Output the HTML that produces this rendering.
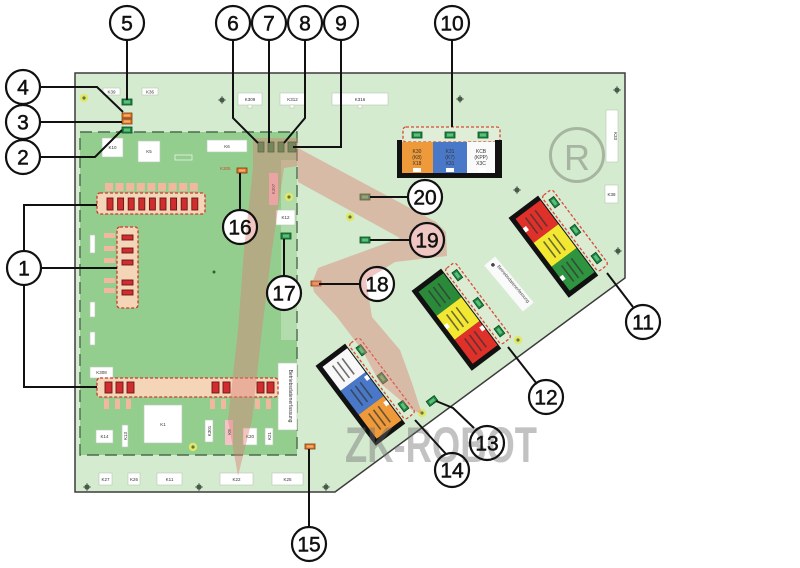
<!DOCTYPE html>
<html><head><meta charset="utf-8">
<style>
html,body{margin:0;padding:0;background:#fff;}
svg{display:block;}
text{font-family:"Liberation Sans",sans-serif;}
</style></head><body>
<svg width="800" height="568" viewBox="0 0 800 568" xmlns="http://www.w3.org/2000/svg">
<defs>
<g id="gc"><rect x="0" y="0" width="10" height="6" fill="#1f8a45" stroke="#0c4a22" stroke-width="0.8"/><rect x="2" y="1.5" width="6" height="3" fill="#5cc07a"/></g>
<g id="oc"><rect x="0" y="0" width="10" height="5" fill="#e8782a" stroke="#7a3a10" stroke-width="0.8"/><rect x="2" y="1.5" width="6" height="2" fill="#f6b070"/></g>
<g id="hole"><circle r="2.6" fill="#4a5a4a"/><path d="M-4,0H4M0,-4V4" stroke="#4a5a4a" stroke-width="0.8"/></g>
<g id="yhole"><circle r="4.2" fill="#e3e66a"/><circle r="1.6" fill="#5a7a3a"/></g>
</defs>
<rect width="800" height="568" fill="#fff"/>

<!-- outer board -->
<polygon points="75,73 625,73 625,278 335,492 75,492" fill="#d4ebd0" stroke="#3c3c3c" stroke-width="1.5"/>
<!-- inner board -->
<rect x="80" y="132" width="217" height="323" fill="#93ce8f"/>
<rect x="281" y="160" width="16" height="180" fill="#b2dcac"/>
<rect x="80" y="132" width="217" height="323" fill="none" stroke="#4e6a50" stroke-width="1.4" stroke-dasharray="12,6"/>

<!-- mounting holes -->
<use href="#hole" x="222" y="100"/><use href="#hole" x="460" y="99"/><use href="#hole" x="617" y="90"/>
<use href="#hole" x="517" y="190"/><use href="#hole" x="618" y="251"/><use href="#hole" x="87" y="487"/>
<use href="#hole" x="199" y="487"/><use href="#hole" x="326" y="487"/>
<circle cx="214" cy="272" r="1.5" fill="#3a5a3a"/>
<use href="#yhole" x="84" y="98"/><use href="#yhole" x="289" y="197"/><use href="#yhole" x="350" y="217"/>
<use href="#yhole" x="193" y="447"/><use href="#yhole" x="422" y="413"/><use href="#yhole" x="518" y="340"/>

<!-- white labels -->
<g fill="#fff" stroke="#b8c8b4" stroke-width="0.6">
<rect x="103" y="88" width="17" height="7"/><rect x="142" y="88" width="16" height="7"/>
<rect x="238" y="93" width="24" height="12"/><rect x="280" y="93" width="25" height="12"/><rect x="332" y="93" width="56" height="12"/>
<rect x="248" y="105" width="4" height="3"/><rect x="290" y="105" width="4" height="3"/><rect x="358" y="105" width="4" height="3"/>
<rect x="102" y="138" width="21" height="19"/><rect x="138" y="141" width="22" height="21"/><rect x="207" y="140" width="40" height="12"/>
<rect x="276" y="210" width="19" height="15"/>
<rect x="90" y="367" width="23" height="11"/><rect x="144" y="405" width="38" height="38"/>
<rect x="96" y="430" width="17" height="13"/><rect x="122" y="425" width="6" height="22"/>
<rect x="205" y="420" width="8" height="22"/><rect x="243" y="428" width="14" height="17"/><rect x="265" y="428" width="8" height="17"/>
<rect x="278" y="363" width="19" height="67"/>
<rect x="99" y="473" width="13" height="12"/><rect x="128" y="473" width="12" height="12"/><rect x="157" y="473" width="25" height="12"/>
<rect x="220" y="473" width="33" height="12"/><rect x="272" y="473" width="31" height="12"/>
<rect x="606" y="110" width="12" height="52"/><rect x="605" y="185" width="13" height="18"/>
<rect x="90" y="235" width="5" height="18"/><rect x="90" y="302" width="5" height="15"/><rect x="90" y="332" width="5" height="13"/>
</g>
<rect x="175" y="155" width="17" height="5" fill="none" stroke="#e8f4e4" stroke-width="0.8"/>
<rect x="269" y="173" width="9" height="32" fill="#f5c2c8"/>
<rect x="225" y="420" width="8" height="25" fill="#f5c2c8"/>
<g font-size="4.5" fill="#333" text-anchor="middle">
<text x="111.5" y="93.5">K39</text><text x="150" y="93.5">K36</text>
<text x="250" y="101">K309</text><text x="292.5" y="101">K312</text><text x="360" y="101">K316</text>
<text x="112.5" y="149">K10</text><text x="149" y="153">K5</text><text x="227" y="148">K6</text>
<text x="285.5" y="219">K12</text><text x="101.5" y="374">K308</text><text x="163" y="426">K1</text>
<text x="104.5" y="438">K14</text><text x="250" y="438">K20</text>
<text x="105.5" y="481">K27</text><text x="134" y="481">K26</text><text x="169.5" y="481">K11</text>
<text x="236.5" y="481">K22</text><text x="287.5" y="481">K25</text><text x="611.5" y="196">K38</text>
</g>
<g font-size="4.5" fill="#333" text-anchor="middle">
<text transform="translate(275,189) rotate(-90)">K307</text>
<text transform="translate(127,436) rotate(-90)">K13</text>
<text transform="translate(211,431) rotate(-90)">K301</text>
<text transform="translate(231,432) rotate(-90)">K8</text>
<text transform="translate(271,436) rotate(-90)">K21</text>
<text transform="translate(614,136) rotate(90)">K33</text>
<text transform="translate(289,396) rotate(90)" font-size="5">Betriebsdatenerfassung</text>
</g>
<text x="220" y="170" font-size="4.5" fill="#c05030">K305</text>

<!-- fuse boxes -->
<g fill="#f4d5b8" stroke="#cc3b2b" stroke-width="1.3" stroke-dasharray="3,2">
<rect x="97" y="193" width="108" height="21" rx="3"/>
<rect x="117" y="227" width="21" height="81" rx="3"/>
<rect x="97" y="378" width="181" height="19" rx="3"/>
</g>
<g fill="#f2b89e">
<rect x="105" y="183" width="8" height="8"/><rect x="115.6" y="183" width="8" height="8"/><rect x="126.2" y="183" width="8" height="8"/>
<rect x="136.8" y="183" width="8" height="8"/><rect x="147.4" y="183" width="8" height="8"/><rect x="158" y="183" width="8" height="8"/>
<rect x="168.6" y="183" width="8" height="8"/><rect x="179.2" y="183" width="8" height="8"/><rect x="189.8" y="183" width="8" height="8"/>
<rect x="104" y="399" width="5" height="10"/><rect x="115" y="399" width="5" height="10"/><rect x="126" y="399" width="5" height="10"/>
<rect x="210" y="399" width="5" height="10"/><rect x="221" y="399" width="5" height="10"/><rect x="255" y="399" width="5" height="10"/><rect x="266" y="399" width="5" height="10"/>
<rect x="104" y="233" width="11" height="5"/><rect x="104" y="246" width="11" height="5"/><rect x="104" y="258" width="11" height="5"/>
<rect x="104" y="278" width="11" height="5"/><rect x="104" y="288" width="11" height="5"/>
</g>
<g fill="#d02e2e" stroke="#6a1515" stroke-width="0.9">
<rect x="107" y="198" width="6" height="12"/><rect x="117.6" y="198" width="6" height="12"/><rect x="128.2" y="198" width="6" height="12"/>
<rect x="138.8" y="198" width="6" height="12"/><rect x="149.4" y="198" width="6" height="12"/><rect x="160" y="198" width="6" height="12"/>
<rect x="170.6" y="198" width="6" height="12"/><rect x="181.2" y="198" width="6" height="12"/><rect x="191.8" y="198" width="6" height="12"/>
<rect x="122" y="235" width="11" height="5"/><rect x="122" y="248" width="11" height="5"/><rect x="122" y="260" width="11" height="5"/>
<rect x="122" y="280" width="11" height="5"/><rect x="122" y="290" width="11" height="5"/>
<rect x="105" y="382" width="7" height="11"/><rect x="116" y="382" width="7" height="11"/><rect x="127" y="382" width="7" height="11"/>
<rect x="212" y="382" width="7" height="11"/><rect x="223" y="382" width="7" height="11"/>
<rect x="257" y="382" width="7" height="11"/><rect x="267" y="382" width="7" height="11"/>
</g>

<!-- small connectors -->
<use href="#gc" x="122" y="99"/><use href="#oc" x="122" y="113"/><use href="#oc" x="122" y="119"/>
<g transform="translate(122,127)"><use href="#gc"/></g>
<g fill="#1f8a45" stroke="#0c4a22" stroke-width="0.8">
<rect x="258" y="142" width="6" height="10"/><rect x="268" y="142" width="6" height="10"/>
<rect x="278" y="142" width="6" height="10"/><rect x="288" y="142" width="8" height="10"/>
</g>
<use href="#oc" x="237" y="168"/><use href="#gc" x="281" y="233"/>
<use href="#gc" x="360" y="194"/><use href="#gc" x="360" y="237"/>
<use href="#oc" x="311" y="281"/><use href="#oc" x="305" y="444"/>
<g transform="translate(432,401) rotate(-37)"><use href="#gc" x="-5" y="-3"/></g>

<!-- block 10 -->
<rect x="403" y="127" width="97" height="15" rx="3" fill="#e0eed8" stroke="#d84a38" stroke-width="1.3" stroke-dasharray="3,2"/>
<use href="#gc" x="412" y="132"/><use href="#gc" x="445" y="132"/><use href="#gc" x="478" y="132"/>
<rect x="402" y="142" width="31" height="31" fill="#ee9a3a"/>
<rect x="433" y="142" width="34" height="31" fill="#4a78c8"/>
<rect x="467" y="142" width="28" height="31" fill="#fafafa"/>
<rect x="397" y="140" width="5" height="38" fill="#111"/>
<rect x="495" y="140" width="7" height="38" fill="#111"/>
<rect x="397" y="173" width="105" height="5" fill="#111"/>
<g font-size="5" fill="#333" text-anchor="middle">
<text x="417" y="153">K30</text><text x="417" y="159">(K8)</text><text x="417" y="165">X18</text>
<text x="450" y="153">K31</text><text x="450" y="159">(K7)</text><text x="450" y="165">X31</text>
<text x="481" y="153">KCB</text><text x="481" y="159">(KPP)</text><text x="481" y="165">X3C</text>
</g>
<g fill="#fff"><rect x="413" y="168" width="8" height="4"/><rect x="446" y="168" width="8" height="4"/><rect x="478" y="168" width="8" height="4"/></g>

<!-- rotated blocks -->
<g transform="translate(553,247) rotate(-37)">
<rect x="21" y="-47" width="13" height="94" rx="3" fill="#dcecd2" stroke="#d84a38" stroke-width="1.3" stroke-dasharray="3,2"/>
<use href="#gc" x="23" y="-38" transform="rotate(90,28,-35)"/><use href="#gc" x="23" y="-3" transform="rotate(90,28,0)"/><use href="#gc" x="23" y="32" transform="rotate(90,28,35)"/>
<rect x="-18" y="-50" width="37" height="100" fill="#111"/>
<rect x="-13" y="-45" width="31" height="30" fill="#e0302a"/>
<rect x="-13" y="-15" width="31" height="30" fill="#f2e832"/>
<rect x="-13" y="15" width="31" height="30" fill="#2f9440"/>
<rect x="-13" y="-33" width="4" height="5" fill="#fff"/><rect x="-13" y="28" width="4" height="5" fill="#fff"/>
<g fill="#333" opacity="0.7"><rect x="-5" y="-40" width="1.6" height="20"/><rect x="1" y="-40" width="1.6" height="20"/><rect x="7" y="-40" width="1.6" height="20"/>
<rect x="-5" y="-10" width="1.6" height="20"/><rect x="1" y="-10" width="1.6" height="20"/><rect x="7" y="-10" width="1.6" height="20"/>
<rect x="-5" y="20" width="1.6" height="20"/><rect x="1" y="20" width="1.6" height="20"/><rect x="7" y="20" width="1.6" height="20"/></g>
</g>
<g transform="translate(456,320) rotate(-37)">
<rect x="21" y="-47" width="13" height="94" rx="3" fill="#dcecd2" stroke="#d84a38" stroke-width="1.3" stroke-dasharray="3,2"/>
<use href="#gc" x="23" y="-38" transform="rotate(90,28,-35)"/><use href="#gc" x="23" y="-3" transform="rotate(90,28,0)"/><use href="#gc" x="23" y="32" transform="rotate(90,28,35)"/>
<rect x="-18" y="-50" width="37" height="100" fill="#111"/>
<rect x="-13" y="-45" width="31" height="30" fill="#2a8a3a"/>
<rect x="-13" y="-15" width="31" height="30" fill="#f2e832"/>
<rect x="-13" y="15" width="31" height="30" fill="#e0302a"/>
<rect x="-13" y="-3" width="4" height="5" fill="#fff"/><rect x="14" y="20" width="4" height="5" fill="#fff"/>
<g fill="#333" opacity="0.7"><rect x="-5" y="-40" width="1.6" height="20"/><rect x="1" y="-40" width="1.6" height="20"/><rect x="7" y="-40" width="1.6" height="20"/>
<rect x="-5" y="-10" width="1.6" height="20"/><rect x="1" y="-10" width="1.6" height="20"/><rect x="7" y="-10" width="1.6" height="20"/>
<rect x="-5" y="20" width="1.6" height="20"/><rect x="1" y="20" width="1.6" height="20"/><rect x="7" y="20" width="1.6" height="20"/></g>
</g>
<g transform="translate(360,395) rotate(-37)">
<rect x="21" y="-47" width="13" height="94" rx="3" fill="#dcecd2" stroke="#d84a38" stroke-width="1.3" stroke-dasharray="3,2"/>
<use href="#gc" x="23" y="-38" transform="rotate(90,28,-35)"/><use href="#gc" x="23" y="-3" transform="rotate(90,28,0)"/><use href="#gc" x="23" y="32" transform="rotate(90,28,35)"/>
<rect x="-18" y="-50" width="37" height="100" fill="#111"/>
<rect x="-13" y="-45" width="31" height="30" fill="#f8f8f8"/>
<rect x="-13" y="-15" width="31" height="30" fill="#4a78c8"/>
<rect x="-13" y="15" width="31" height="30" fill="#ee9a3a"/>
<rect x="14" y="-12" width="4" height="5" fill="#fff"/><rect x="14" y="20" width="4" height="5" fill="#fff"/>
<g fill="#333" opacity="0.7"><rect x="-5" y="-40" width="1.6" height="20"/><rect x="1" y="-40" width="1.6" height="20"/><rect x="7" y="-40" width="1.6" height="20"/>
<rect x="-5" y="-10" width="1.6" height="20"/><rect x="1" y="-10" width="1.6" height="20"/><rect x="7" y="-10" width="1.6" height="20"/>
<rect x="-5" y="20" width="1.6" height="20"/><rect x="1" y="20" width="1.6" height="20"/><rect x="7" y="20" width="1.6" height="20"/></g>
</g>
<g transform="translate(509,284) rotate(-40)">
<rect x="-7" y="-30" width="14" height="60" fill="#fafafa"/>
<circle cx="0" cy="-25" r="1.8" fill="#444"/>
<text transform="translate(2,-21) rotate(90)" font-size="4.5" fill="#444">Betriebsdatenerfassung</text>
</g>

<!-- registered mark -->
<circle cx="577" cy="155" r="26.5" fill="none" stroke="#a6b5a0" stroke-width="3"/>
<text x="577" y="170" font-size="36" fill="#a6b5a0" text-anchor="middle">R</text>

<!-- callout circle fills -->
<g fill="#fff">
<circle cx="24" cy="268" r="17"/><circle cx="23" cy="157" r="17"/><circle cx="23" cy="122" r="17"/><circle cx="23" cy="87" r="17"/>
<circle cx="127" cy="23" r="17"/><circle cx="233" cy="23" r="17"/><circle cx="269" cy="23" r="17"/><circle cx="305" cy="23" r="17"/>
<circle cx="341" cy="23" r="17"/><circle cx="452" cy="23" r="17"/><circle cx="643" cy="322" r="17"/><circle cx="546" cy="397" r="17"/>
<circle cx="487" cy="443" r="17"/><circle cx="452" cy="470" r="17"/><circle cx="309" cy="544" r="17"/><circle cx="240" cy="227" r="17"/>
<circle cx="284" cy="293" r="17"/><circle cx="377" cy="284" r="17"/><circle cx="427" cy="240" r="17"/><circle cx="425" cy="197" r="17"/>
</g>

<!-- translucent highlight bands -->
<g fill="rgb(220,128,118)" fill-opacity="0.45">
<polygon points="253,138 298,138 298,166 284,168 272,250 262,330 252,420 238,476 228,420 238,330 244,250 253,168"/>
<polygon points="298,148 436,222 446,232 447,256 395,262 366,280 372,317 400,350 412,383 422,414 412,410 380,383 362,350 337,317 314,292 312,283 318,268 400,238 298,182"/>
</g>

<!-- watermark -->
<text x="345" y="462" font-size="50" font-weight="bold" textLength="192" lengthAdjust="spacingAndGlyphs" fill="#6e6e6e" fill-opacity="0.42">ZK-ROBOT</text>

<!-- leader lines -->
<g fill="none" stroke="#111" stroke-width="2">
<path d="M24,251V205H97M41,268H117M24,285V387H97"/>
<path d="M40,157H95L122,130"/>
<path d="M40,122H122"/>
<path d="M40,87H97L123,112"/>
<path d="M127,40V100"/>
<path d="M233,40V118L258,143"/>
<path d="M269,40V143"/>
<path d="M305,40V118L284,143"/>
<path d="M341,40V147H293"/>
<path d="M452,40V127"/>
<path d="M607,273L633,307"/>
<path d="M508,347L537,384"/>
<path d="M436,401L453,408L474,428"/>
<path d="M415,420L446,454"/>
<path d="M309,527V449"/>
<path d="M240,210V173"/>
<path d="M284,276V239"/>
<path d="M360,284H319"/>
<path d="M410,240H370"/>
<path d="M408,197H370"/>
</g>

<!-- callout outlines + numbers -->
<g fill="none" stroke="#111" stroke-width="2.2">
<circle cx="24" cy="268" r="17"/><circle cx="23" cy="157" r="17"/><circle cx="23" cy="122" r="17"/><circle cx="23" cy="87" r="17"/>
<circle cx="127" cy="23" r="17"/><circle cx="233" cy="23" r="17"/><circle cx="269" cy="23" r="17"/><circle cx="305" cy="23" r="17"/>
<circle cx="341" cy="23" r="17"/><circle cx="452" cy="23" r="17"/><circle cx="643" cy="322" r="17"/><circle cx="546" cy="397" r="17"/>
<circle cx="487" cy="443" r="17"/><circle cx="452" cy="470" r="17"/><circle cx="309" cy="544" r="17"/><circle cx="240" cy="227" r="17"/>
<circle cx="284" cy="293" r="17"/><circle cx="377" cy="284" r="17"/><circle cx="427" cy="240" r="17"/><circle cx="425" cy="197" r="17"/>
</g>
<g font-size="21" fill="#111" stroke="#111" stroke-width="0.5" text-anchor="middle">
<text x="24" y="275.5">1</text><text x="23" y="164.5">2</text><text x="23" y="129.5">3</text><text x="23" y="94.5">4</text>
<text x="127" y="30.5">5</text><text x="233" y="30.5">6</text><text x="269" y="30.5">7</text><text x="305" y="30.5">8</text>
<text x="341" y="30.5">9</text><text x="452" y="30.5">10</text><text x="643" y="329.5">11</text><text x="546" y="404.5">12</text>
<text x="487" y="450.5">13</text><text x="452" y="477.5">14</text><text x="309" y="551.5">15</text><text x="240" y="234.5">16</text>
<text x="284" y="300.5">17</text><text x="377" y="291.5">18</text><text x="427" y="247.5">19</text><text x="425" y="204.5">20</text>
</g>
</svg>
</body></html>
